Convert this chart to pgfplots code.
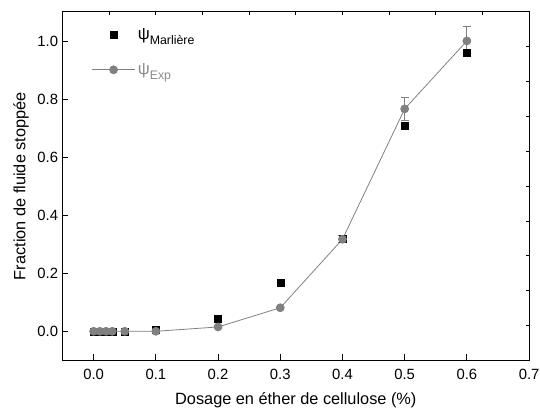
\documentclass[border=0pt]{standalone}
\usepackage{pgfplots}
\pgfplotsset{compat=1.18}
\usepackage{fontspec}
\setmainfont{Liberation Sans}
\definecolor{expgrey}{RGB}{128,128,128}
\definecolor{exptext}{RGB}{140,140,140}

\begin{document}
\begin{tikzpicture}
\begin{axis}[
  scale only axis, width=470bp, height=351bp,
  xmin=-0.05, xmax=0.7, ymin=-0.1, ymax=1.1,
  xtick={0,0.1,0.2,0.3,0.4,0.5,0.6,0.7},
  ytick={0,0.2,0.4,0.6,0.8,1.0},
  xtick pos=left, ytick pos=left,
  tick align=inside, major tick length=6bp,
  /pgf/number format/assume math mode=true,
  ticklabel style={font=\fontsize{15}{17}\selectfont},
  xticklabel style={yshift=-5bp, /pgf/number format/.cd, fixed, fixed zerofill, precision=1},
  yticklabel style={xshift=-1bp, /pgf/number format/.cd, fixed, fixed zerofill, precision=1},
  label style={font=\fontsize{16.5}{19}\selectfont},
  xlabel={Dosage en éther de cellulose (\%)},
  ylabel={Fraction de fluide stoppée},
  xlabel style={yshift=-6bp},
  ylabel style={yshift=2bp},
  axis line style={line width=1bp},
  tick style={line width=0.8bp, black},
  legend style={at={(rel axis cs:0.055,0.965)}, anchor=north west, draw=none, fill=none,
    font=\fontsize{17}{19}\selectfont, row sep=19bp, cells={anchor=west}},
  legend image code/.code={\draw[mark repeat=2,mark phase=2,#1]
    plot coordinates {(0bp,0bp) (22bp,0bp) (44bp,0bp)};},
]
\addplot[only marks, mark=square*, mark size=3.5bp, black] coordinates {
  (0,0) (0.01,0) (0.02,0) (0.03,0) (0.05,0) (0.1,0.005) (0.2,0.045)
  (0.3,0.166) (0.4,0.32) (0.5,0.707) (0.6,0.96)
};
\addlegendentry{ψ\raisebox{-0.6ex}{\fontsize{12.5}{14}\selectfont Marlière}}
\addplot[expgrey, line width=0.8bp, mark=*, mark size=4bp,
  mark options={solid, fill=expgrey, draw=expgrey},
  error bars/.cd, y dir=both, y explicit,
  error bar style={expgrey, line width=0.8bp},
  error mark options={rotate=90, mark size=4bp, expgrey, line width=0.8bp}]
  coordinates {
  (0,0) +- (0,0) (0.01,0) +- (0,0) (0.02,0) +- (0,0) (0.03,0) +- (0,0)
  (0.05,0) +- (0,0) (0.1,0) +- (0,0) (0.2,0.015) +- (0,0)
  (0.3,0.081) +- (0,0) (0.4,0.317) +- (0,0.012) (0.5,0.766) +- (0,0.038)
  (0.6,1.0) +- (0,0.05)
};
\addlegendentry{\textcolor{exptext}{ψ\raisebox{-0.6ex}{\fontsize{12.5}{14}\selectfont Exp}}}
\end{axis}
\begin{axis}[
  scale only axis, width=470bp, height=351bp,
  xmin=0, xmax=10, ymin=0, ymax=10,
  xtick={1,...,9}, ytick={1,...,9},
  xticklabels={}, yticklabels={},
  xtick pos=right, ytick pos=right,
  tick align=inside, major tick length=3bp,
  axis line style={draw=none},
  tick style={line width=0.8bp, black},
]
\end{axis}
\pgfresetboundingbox
\path ([shift={(-63bp,-50bp)}]current axis.south west) rectangle ([shift={(11bp,12bp)}]current axis.north east);
\end{tikzpicture}
\end{document}
